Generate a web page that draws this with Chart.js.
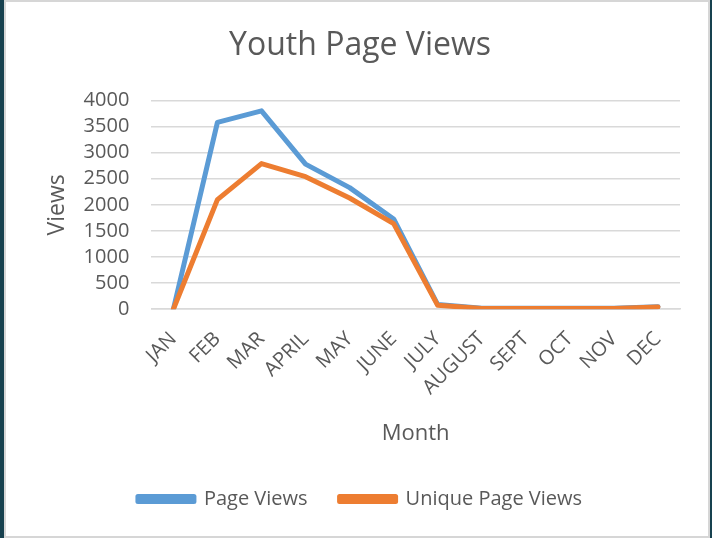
<!DOCTYPE html>
<html lang="en">
<head>
    <meta charset="UTF-8">
    <title>Youth Page Views</title>
    <script src="https://cdn.jsdelivr.net/npm/chart.js"></script>
    <style>
        body { margin: 0; background: #17414f; }
        #frame {
            position: absolute; left: 4px; top: 0;
            width: 702px; height: 534px;
            border: 2px solid #d6d6d6;
            background: #fff;
        }
        canvas { display: block; }
    </style>
</head>
<body>
    <div id="frame"><canvas id="viewsChart" width="702" height="534"></canvas></div>

    <script>
// Monthly data
const months = ['JAN', 'FEB', 'MAR', 'APRIL', 'MAY', 'JUNE', 'JULY', 'AUGUST', 'SEPT', 'OCT', 'NOV', 'DEC'];
const pageViews = [0, 3580, 3800, 2780, 2330, 1730, 90, 20, 20, 20, 20, 50];
const uniquePageViews = [0, 2100, 2790, 2540, 2130, 1640, 75, 15, 15, 15, 15, 45];

const textColor = '#595959';
const fontFamily = '"Open Sans", sans-serif';

const ctx = document.getElementById('viewsChart').getContext('2d');
const chart = new Chart(ctx, {
    type: 'line',
    data: {
        labels: months,
        datasets: [
            {
                label: 'Page Views',
                data: pageViews,
                borderColor: '#5b9bd5',
                backgroundColor: '#5b9bd5',
                borderWidth: 5,
                pointRadius: 0,
                borderJoinStyle: 'round',
                borderCapStyle: 'round',
                order: 1, // drawn under the orange line
            },
            {
                label: 'Unique Page Views',
                data: uniquePageViews,
                borderColor: '#ed7d31',
                backgroundColor: '#ed7d31',
                borderWidth: 5,
                pointRadius: 0,
                borderJoinStyle: 'round',
                borderCapStyle: 'round',
                order: 0,
            },
        ],
    },
    options: {
        responsive: false,
        animation: false,
        layout: { padding: { left: 34, right: 28, top: 0, bottom: 17 } },
        plugins: {
            title: {
                display: true,
                text: 'Youth Page Views',
                color: textColor,
                font: { family: fontFamily, size: 32, weight: 'normal' },
                padding: { top: 25, bottom: 35 },
            },
            legend: {
                position: 'bottom',
                labels: {
                    color: textColor,
                    font: { family: fontFamily, size: 20 },
                    boxWidth: 56,
                    boxHeight: 5,
                    padding: 32,
                    sort: (a, b) => a.datasetIndex - b.datasetIndex,
                },
            },
            tooltip: { enabled: false },
        },
        scales: {
            x: {
                offset: true,
                grid: { display: false, drawTicks: false },
                border: { display: true, color: '#d9d9d9', width: 1.5 },
                ticks: {
                    color: textColor,
                    font: { family: fontFamily, size: 20 },
                    minRotation: 45,
                    maxRotation: 45,
                    autoSkip: false,
                    padding: 18,
                },
                title: {
                    display: true,
                    text: 'Month',
                    color: textColor,
                    font: { family: fontFamily, size: 22 },
                    padding: { top: 3, bottom: 10 },
                },
            },
            y: {
                min: 0,
                max: 4000,
                grid: { color: '#d9d9d9', lineWidth: 1.5, drawTicks: false },
                border: { display: false },
                ticks: {
                    stepSize: 500,
                    autoSkip: false,
                    color: textColor,
                    font: { family: fontFamily, size: 20, lineHeight: 1 },
                    padding: 22,
                    callback: (value) => String(value),
                },
                title: {
                    display: true,
                    text: 'Views',
                    color: textColor,
                    font: { family: fontFamily, size: 23 },
                    padding: { top: 4, bottom: -10 },
                },
            },
        },
    },
});
    </script>
</body>
</html>
